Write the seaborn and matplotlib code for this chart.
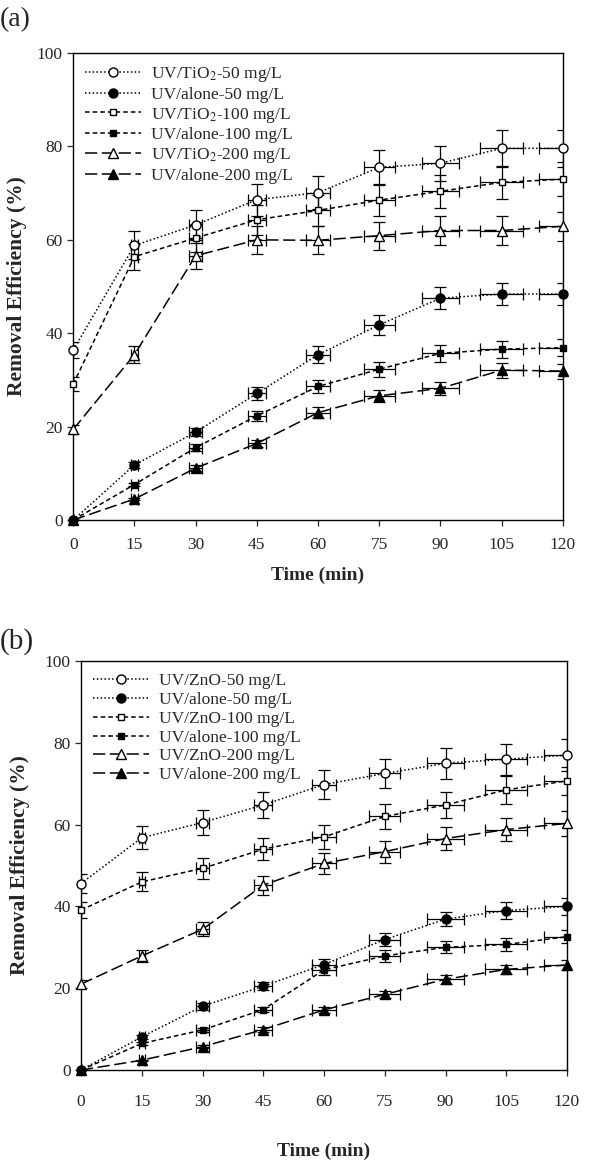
import numpy as np
import pandas as pd
import matplotlib
matplotlib.use('Agg')
import matplotlib.pyplot as plt
import seaborn as sns

sns.set_style('ticks')
plt.rcParams['font.family'] = ['Liberation Serif', 'DejaVu Serif']
plt.rcParams['mathtext.fontset'] = 'stix'

time = [0, 15, 30, 45, 60, 75, 90, 105, 120]
time_err = [0, 0.8, 1.5, 2.2, 3.0, 3.8, 4.5, 5.2, 5.8]

# panel (a): TiO2
a_labels = ['UV/TiO$_2$-50 mg/L', 'UV/alone-50 mg/L', 'UV/TiO$_2$-100 mg/L',
            'UV/alone-100 mg/L', 'UV/TiO$_2$-200 mg/L', 'UV/alone-200 mg/L']
a_tio2_50 = [36.4, 58.8, 63.2, 68.6, 70.1, 75.5, 76.4, 79.6, 79.6]
a_alone_50 = [0, 11.8, 18.8, 27.1, 35.4, 41.8, 47.5, 48.4, 48.4]
a_tio2_100 = [29.1, 56.4, 60.4, 64.3, 66.3, 68.5, 70.4, 72.3, 73.0]
a_alone_100 = [0, 7.6, 15.5, 22.3, 28.6, 32.3, 35.7, 36.6, 36.9]
a_tio2_200 = [19.4, 35.4, 56.6, 60.0, 59.9, 60.9, 62.0, 62.0, 62.9]
a_alone_200 = [0, 4.5, 11.1, 16.4, 23.0, 26.6, 28.2, 32.1, 31.9]
a_err = [
    [1.8, 3.0, 3.2, 3.4, 3.5, 3.8, 3.8, 4.0, 4.0],
    [0, 0.6, 0.9, 1.4, 1.8, 2.1, 2.4, 2.4, 2.4],
    [1.5, 2.8, 3.0, 3.2, 3.3, 3.4, 3.5, 3.6, 3.7],
    [0, 0.4, 0.8, 1.1, 1.4, 1.6, 1.8, 1.8, 1.8],
    [1.0, 1.8, 2.8, 3.0, 3.0, 3.0, 3.1, 3.1, 3.1],
    [0, 0.2, 0.6, 0.8, 1.2, 1.3, 1.4, 1.6, 1.6],
]

# panel (b): ZnO
b_labels = ['UV/ZnO-50 mg/L', 'UV/alone-50 mg/L', 'UV/ZnO-100 mg/L',
            'UV/alone-100 mg/L', 'UV/ZnO-200 mg/L', 'UV/alone-200 mg/L']
b_zno_50 = [45.6, 56.8, 60.5, 64.8, 69.8, 72.5, 75.0, 76.0, 77.0]
b_alone_50 = [0, 8.1, 15.6, 20.5, 25.8, 31.9, 36.9, 39.0, 40.0]
b_zno_100 = [39.1, 46.0, 49.3, 54.0, 57.0, 62.0, 64.8, 68.5, 70.7]
b_alone_100 = [0, 6.5, 9.8, 14.8, 24.5, 27.9, 30.0, 30.7, 32.6]
b_zno_200 = [21.0, 27.9, 34.4, 45.2, 50.5, 53.4, 56.6, 58.8, 60.3]
b_alone_200 = [0, 2.4, 5.7, 9.9, 14.7, 18.5, 22.2, 24.6, 25.7]
b_err = [
    [2.3, 2.8, 3.0, 3.2, 3.5, 3.6, 3.8, 3.8, 3.9],
    [0, 0.4, 0.8, 1.0, 1.3, 1.6, 1.8, 2.0, 2.0],
    [2.0, 2.3, 2.5, 2.7, 2.9, 3.1, 3.2, 3.4, 3.5],
    [0, 0.3, 0.5, 0.7, 1.2, 1.4, 1.5, 1.5, 1.6],
    [1.0, 1.4, 1.7, 2.3, 2.5, 2.7, 2.8, 2.9, 3.0],
    [0, 0.1, 0.3, 0.5, 0.7, 0.9, 1.1, 1.2, 1.3],
]

markers = ['o', 'o', 's', 's', '^', '^']
fills = ['white', 'black', 'white', 'black', 'white', 'black']
dashes = [(1, 1.5), (1, 1.5), (3, 2), (3, 2), (8, 3), (8, 3)]
msizes = [6.5, 6.5, 5, 5, 6.5, 6.5]


def draw(ax, series, labels, errs, ylab_x, xlab_y, xpad):
    for i, (ys, lab) in enumerate(zip(series, labels)):
        df = pd.DataFrame({'t': time, 'v': ys})
        ax.errorbar(df['t'], df['v'], yerr=errs[i], xerr=time_err, fmt='none',
                    ecolor='black', elinewidth=0.9, capsize=4, capthick=0.9,
                    zorder=2)
        sns.lineplot(data=df, x='t', y='v', ax=ax, color='black', lw=1.1,
                     marker=markers[i], markersize=msizes[i],
                     markerfacecolor=fills[i], markeredgecolor='black',
                     markeredgewidth=1.0, dashes=False, label=lab, zorder=3,
                     clip_on=False)
        ax.lines[-1].set_dashes(dashes[i])
    ax.set_xlim(0, 120)
    ax.set_ylim(0, 100)
    ax.set_xticks(time)
    ax.set_yticks([0, 20, 40, 60, 80, 100])
    ax.tick_params(labelsize=12.5, direction='out', length=4, width=0.9)
    ax.tick_params(axis='x', pad=xpad)
    for s in ax.spines.values():
        s.set_linewidth(1.0)
        s.set_color('black')
    ax.set_xlabel('Time (min)', fontsize=14, fontweight='bold')
    ax.set_ylabel('Removal Efficiency (%)', fontsize=15.5, fontweight='bold')
    ax.yaxis.set_label_coords(ylab_x, 0.5)
    ax.xaxis.set_label_coords(0.5, xlab_y)
    leg = ax.legend(loc='upper left', frameon=False, fontsize=12.5,
                    handlelength=3.2, handletextpad=0.6, labelspacing=0.15,
                    borderaxespad=0.3)
    for h, d in zip(leg.legend_handles, dashes):
        h.set_dashes(d)
    return leg


fig = plt.figure(figsize=(6, 11.66), dpi=100)
ax1 = fig.add_axes([0.122, 0.554, 0.816, 0.4005])
ax2 = fig.add_axes([0.135, 0.0823, 0.810, 0.3508])

draw(ax1, [a_tio2_50, a_alone_50, a_tio2_100, a_alone_100, a_tio2_200, a_alone_200],
     a_labels, a_err, -0.094, -0.1, 8.5)
draw(ax2, [b_zno_50, b_alone_50, b_zno_100, b_alone_100, b_zno_200, b_alone_200],
     b_labels, b_err, -0.105, -0.177, 13)

fig.text(0.0, 0.983, '(a)', fontsize=20, va='center', ha='left')
fig.text(0.0, 0.4494, '(b)', fontsize=21, va='center', ha='left')

fig.savefig('out.png', dpi=100)
